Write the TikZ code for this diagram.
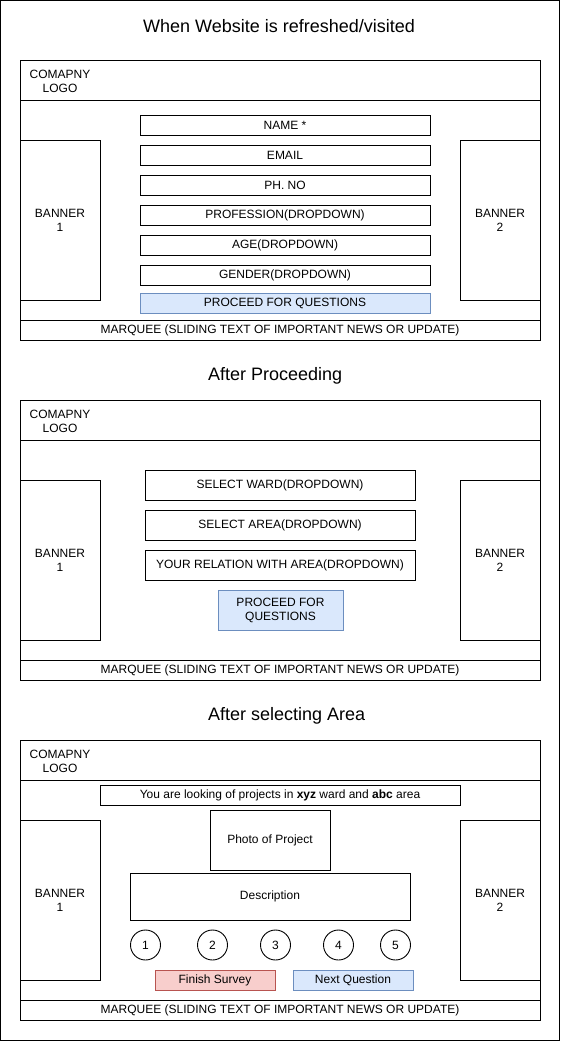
\documentclass[tikz,border=0pt]{standalone}
\usepackage{fontspec}
\setmainfont{Liberation Sans}
\definecolor{bfill}{HTML}{DAE8FC}
\definecolor{bline}{HTML}{6C8EBF}
\definecolor{rfill}{HTML}{F8CECC}
\definecolor{rline}{HTML}{B85450}
\newcommand\wfbox[7]{\node[wf,#6,minimum width={((#4)-(#2))*1pt},minimum height={((#5)-(#3))*1pt}] (#1) at ({((#2)+(#4))/2},{((#3)+(#5))/2}) {#7};}
\newcommand\wfcommon[1]{%
  \wfbox{#1frame}{20}{60}{540}{340}{}{}
  \wfbox{#1head}{20}{60}{540}{100}{}{}
  \node[txt] (#1logo) at (60,81) {COMAPNY\\LOGO};
  \wfbox{#1banA}{20}{140}{100}{300}{}{BANNER\\1}
  \wfbox{#1banB}{460}{140}{540}{300}{}{BANNER\\2}
  \wfbox{#1marq}{20}{320}{540}{340}{}{MARQUEE (SLIDING TEXT OF IMPORTANT NEWS OR UPDATE)}
}
\tikzset{
  wf/.style={draw=black,line width=0.9pt,fill=white,inner sep=0pt,outer sep=0pt,align=center,font=\fontsize{12}{14}\selectfont},
  txt/.style={inner sep=0pt,outer sep=0pt,align=center,font=\fontsize{12}{14}\selectfont},
  title/.style={inner sep=0pt,outer sep=0pt,font=\fontsize{18}{21}\selectfont},
  blue/.style={fill=bfill,draw=bline},
  red/.style={fill=rfill,draw=rline},
  num/.style={draw=black,line width=0.9pt,circle,minimum size=30pt,inner sep=0pt,font=\fontsize{12}{14}\selectfont}
}
\begin{document}
\begin{tikzpicture}[x=1pt,y=-1pt]
\useasboundingbox (0,0) rectangle (561,1041);
\draw[line width=0.9pt] (0.5,0.5) rectangle (559.5,1040.5);
% Section 1
\node[title] (t1) at (279,26) {When Website is refreshed/visited};
\wfcommon{a}
\wfbox{aname}{140}{115}{430}{135}{}{NAME *}
\wfbox{aemail}{140}{145}{430}{165}{}{EMAIL}
\wfbox{aph}{140}{175}{430}{195}{}{PH. NO}
\wfbox{aprof}{140}{205}{430}{225}{}{PROFESSION(DROPDOWN)}
\wfbox{aage}{140}{235}{430}{255}{}{AGE(DROPDOWN)}
\wfbox{agen}{140}{265}{430}{285}{}{GENDER(DROPDOWN)}
\wfbox{aproc}{140}{293}{430}{313}{blue}{PROCEED FOR QUESTIONS}
% Section 2
\begin{scope}[yshift=-340pt]
\node[title,anchor=west] (t2) at (208,35.5) {After Proceeding};
\wfcommon{b}
\wfbox{bward}{145}{130}{415}{160}{}{SELECT WARD(DROPDOWN)}
\wfbox{barea}{145}{170}{415}{200}{}{SELECT AREA(DROPDOWN)}
\wfbox{brel}{145}{210}{415}{240}{}{YOUR RELATION WITH AREA(DROPDOWN)}
\wfbox{bproc}{218}{250}{343}{290}{blue}{PROCEED FOR\\QUESTIONS}
\end{scope}
% Section 3
\begin{scope}[yshift=-680pt]
\node[title,anchor=west] (t3) at (208,35.5) {After selecting Area};
\wfcommon{c}
\wfbox{cinfo}{100}{105}{460}{125}{}{You are looking of projects in \textbf{xyz} ward and \textbf{abc} area}
\wfbox{cphoto}{210}{130}{330}{190}{}{Photo of Project}
\wfbox{cdesc}{130}{193}{410}{240}{}{Description}
\node[num] (c1) at (145.5,265) {1};
\node[num] (c2) at (212.5,265) {2};
\node[num] (c3) at (275.5,265) {3};
\node[num] (c4) at (338.5,265) {4};
\node[num] (c5) at (395.5,265) {5};
\wfbox{cfin}{155}{290}{275}{310}{red}{Finish Survey}
\wfbox{cnext}{293}{290}{413}{310}{blue}{Next Question}
\end{scope}
\end{tikzpicture}
\end{document}
